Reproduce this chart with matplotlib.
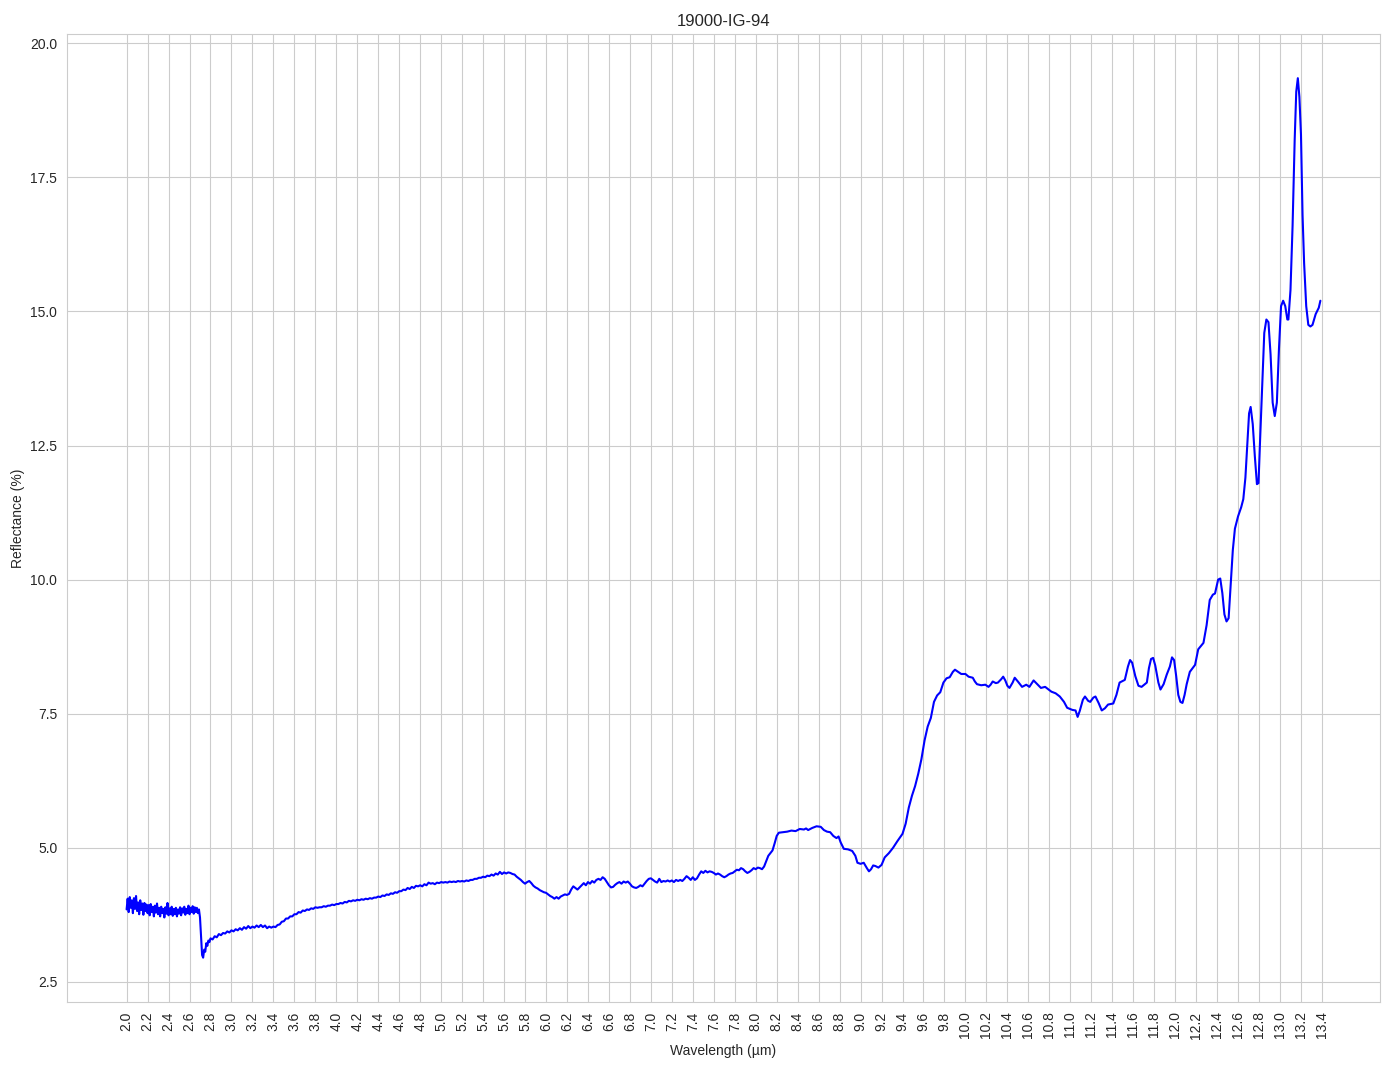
import numpy as np
import matplotlib
matplotlib.use("Agg")
import matplotlib.pyplot as plt
import seaborn as sns

title = "19000-IG-94"

# noisy start of the spectrum (read every 0.01 um)
wl_noisy = [2.00, 2.01, 2.02, 2.03, 2.04, 2.05, 2.06, 2.07, 2.08, 2.09,
            2.10, 2.11, 2.12, 2.13, 2.14, 2.15, 2.16, 2.17, 2.18, 2.19,
            2.20, 2.21, 2.22, 2.23, 2.24, 2.25, 2.26, 2.27, 2.28, 2.29,
            2.30, 2.31, 2.32, 2.33, 2.34, 2.35, 2.36, 2.37, 2.38, 2.39,
            2.40, 2.41, 2.42, 2.43, 2.44, 2.45, 2.46, 2.47, 2.48, 2.49,
            2.50, 2.51, 2.52, 2.53, 2.54, 2.55, 2.56, 2.57, 2.58, 2.59,
            2.60, 2.61, 2.62, 2.63, 2.64, 2.65, 2.66, 2.67, 2.68, 2.69, 2.70]
refl_noisy = [3.85, 4.05, 3.80, 4.08, 3.88, 4.02, 3.78, 4.06, 3.86, 4.10,
              3.82, 3.98, 3.76, 4.02, 3.84, 3.96, 3.75, 3.97, 3.82, 3.94,
              3.78, 3.93, 3.74, 3.95, 3.80, 3.90, 3.72, 3.92, 3.79, 3.96,
              3.76, 3.88, 3.72, 3.90, 3.78, 3.86, 3.70, 3.89, 3.77, 3.97,
              3.74, 3.87, 3.76, 3.90, 3.73, 3.86, 3.76, 3.88, 3.72, 3.85,
              3.77, 3.89, 3.74, 3.87, 3.79, 3.90, 3.75, 3.86, 3.78, 3.92,
              3.76, 3.88, 3.80, 3.91, 3.77, 3.89, 3.80, 3.88, 3.78, 3.85, 3.70]

# drop at 2.7 um and slow rise
wl_low = [2.71, 2.72, 2.73, 2.74, 2.75, 2.76, 2.77, 2.78, 2.79, 2.80,
          2.82, 2.84, 2.86, 2.88, 2.90, 2.92, 2.94, 2.96, 2.98, 3.00,
          3.02, 3.04, 3.06, 3.08, 3.10, 3.12, 3.14, 3.16, 3.18, 3.20,
          3.22, 3.24, 3.26, 3.28, 3.30, 3.32, 3.34, 3.36, 3.38, 3.40,
          3.42, 3.44, 3.46, 3.48, 3.50, 3.52, 3.54, 3.56, 3.58, 3.60,
          3.62, 3.64, 3.66, 3.68, 3.70, 3.72, 3.74, 3.76, 3.78, 3.80,
          3.82, 3.84, 3.86, 3.88, 3.90, 3.92, 3.94, 3.96, 3.98, 4.00,
          4.02, 4.04, 4.06, 4.08, 4.10, 4.12, 4.14, 4.16, 4.18, 4.20,
          4.22, 4.24, 4.26, 4.28, 4.30, 4.32, 4.34, 4.36, 4.38, 4.40,
          4.42, 4.44, 4.46, 4.48, 4.50, 4.52, 4.54, 4.56, 4.58, 4.60,
          4.62, 4.64, 4.66, 4.68, 4.70, 4.72, 4.74, 4.76, 4.78, 4.80,
          4.82, 4.84, 4.86, 4.88, 4.90, 4.92, 4.94, 4.96, 4.98, 5.00,
          5.02, 5.04, 5.06, 5.08, 5.10, 5.12, 5.14, 5.16, 5.18, 5.20,
          5.22, 5.24, 5.26, 5.28, 5.30, 5.32, 5.34, 5.36, 5.38, 5.40,
          5.42, 5.44, 5.46, 5.48, 5.50, 5.52, 5.54, 5.56, 5.58, 5.60]
refl_low = [3.35, 3.00, 2.95, 3.10, 3.06, 3.22, 3.17, 3.27, 3.24, 3.31,
            3.29, 3.35, 3.33, 3.39, 3.37, 3.41, 3.40, 3.44, 3.42, 3.46,
            3.44, 3.48, 3.46, 3.50, 3.47, 3.52, 3.49, 3.54, 3.50, 3.53,
            3.51, 3.55, 3.52, 3.56, 3.52, 3.55, 3.50, 3.53, 3.51, 3.53,
            3.52, 3.56, 3.57, 3.62, 3.63, 3.68, 3.68, 3.72, 3.72, 3.76,
            3.76, 3.80, 3.79, 3.83, 3.82, 3.85, 3.84, 3.87, 3.86, 3.89,
            3.88, 3.89, 3.89, 3.91, 3.90, 3.92, 3.92, 3.94, 3.93, 3.95,
            3.95, 3.97, 3.96, 3.99, 3.98, 4.01, 4.00, 4.02, 4.01, 4.03,
            4.02, 4.04, 4.03, 4.05, 4.04, 4.06, 4.05, 4.07, 4.07, 4.09,
            4.08, 4.11, 4.10, 4.13, 4.12, 4.15, 4.14, 4.17, 4.16, 4.19,
            4.19, 4.22, 4.21, 4.25, 4.23, 4.27, 4.25, 4.29, 4.28, 4.30,
            4.28, 4.32, 4.30, 4.35, 4.33, 4.34, 4.32, 4.35, 4.34, 4.36,
            4.35, 4.36, 4.35, 4.37, 4.36, 4.37, 4.36, 4.38, 4.37, 4.38,
            4.37, 4.39, 4.38, 4.40, 4.40, 4.42, 4.42, 4.44, 4.44, 4.46,
            4.45, 4.48, 4.47, 4.50, 4.48, 4.52, 4.50, 4.55, 4.51, 4.54]

# mid range 5.6 - 9.5 um
wl_mid = [5.62, 5.64, 5.66, 5.68, 5.70, 5.72, 5.74, 5.76, 5.78, 5.80,
          5.82, 5.84, 5.86, 5.88, 5.90, 5.92, 5.94, 5.96, 5.98, 6.00,
          6.02, 6.04, 6.06, 6.08, 6.10, 6.12, 6.14, 6.16, 6.18, 6.20,
          6.22, 6.24, 6.26, 6.28, 6.30, 6.32, 6.34, 6.36, 6.38, 6.40,
          6.42, 6.44, 6.46, 6.48, 6.50, 6.52, 6.54, 6.56, 6.58, 6.60,
          6.62, 6.64, 6.66, 6.68, 6.70, 6.72, 6.74, 6.76, 6.78, 6.80,
          6.82, 6.84, 6.86, 6.88, 6.90, 6.92, 6.94, 6.96, 6.98, 7.00,
          7.02, 7.04, 7.06, 7.08, 7.10, 7.12, 7.14, 7.16, 7.18, 7.20,
          7.22, 7.24, 7.26, 7.28, 7.30, 7.32, 7.34, 7.36, 7.38, 7.40,
          7.42, 7.44, 7.46, 7.48, 7.50, 7.52, 7.54, 7.56, 7.58, 7.60,
          7.62, 7.64, 7.66, 7.68, 7.70, 7.72, 7.74, 7.76, 7.78, 7.80,
          7.82, 7.84, 7.86, 7.88, 7.90, 7.92, 7.94, 7.96, 7.98, 8.00,
          8.02, 8.04, 8.06, 8.08, 8.10, 8.12, 8.14, 8.16, 8.18, 8.20,
          8.22, 8.26, 8.30, 8.34, 8.38, 8.42, 8.46, 8.48, 8.50, 8.54,
          8.58, 8.62, 8.65, 8.68, 8.71, 8.74, 8.77, 8.79, 8.81, 8.84,
          8.88, 8.92, 8.95, 8.97, 9.00, 9.03, 9.06, 9.08, 9.10, 9.12,
          9.14, 9.17, 9.20, 9.23, 9.27, 9.31, 9.35, 9.40, 9.43, 9.46]
refl_mid = [4.52, 4.54, 4.53, 4.51, 4.50, 4.46, 4.43, 4.40, 4.36, 4.33,
            4.36, 4.38, 4.34, 4.29, 4.26, 4.24, 4.21, 4.19, 4.17, 4.16,
            4.13, 4.10, 4.08, 4.05, 4.08, 4.05, 4.09, 4.11, 4.13, 4.12,
            4.14, 4.22, 4.28, 4.25, 4.22, 4.26, 4.30, 4.34, 4.30, 4.36,
            4.33, 4.38, 4.35, 4.40, 4.42, 4.40, 4.45, 4.42, 4.36, 4.30,
            4.26, 4.27, 4.31, 4.34, 4.36, 4.33, 4.37, 4.35, 4.37, 4.33,
            4.28, 4.26, 4.25, 4.27, 4.30, 4.28, 4.33, 4.38, 4.42, 4.43,
            4.40, 4.37, 4.35, 4.42, 4.36, 4.38, 4.37, 4.39, 4.37, 4.39,
            4.36, 4.40, 4.38, 4.40, 4.38, 4.42, 4.47, 4.44, 4.40, 4.45,
            4.40, 4.43, 4.50, 4.56, 4.53, 4.57, 4.54, 4.56, 4.55, 4.53,
            4.50, 4.52, 4.50, 4.47, 4.45, 4.47, 4.50, 4.52, 4.53, 4.56,
            4.59, 4.58, 4.62, 4.60, 4.56, 4.53, 4.55, 4.58, 4.62, 4.60,
            4.63, 4.62, 4.60, 4.65, 4.75, 4.85, 4.90, 4.95, 5.08, 5.22,
            5.28, 5.29, 5.30, 5.32, 5.31, 5.35, 5.34, 5.36, 5.33, 5.37,
            5.40, 5.39, 5.33, 5.30, 5.29, 5.22, 5.18, 5.21, 5.10, 4.98,
            4.97, 4.94, 4.85, 4.72, 4.70, 4.72, 4.62, 4.56, 4.60, 4.67,
            4.66, 4.63, 4.68, 4.82, 4.90, 5.00, 5.12, 5.26, 5.45, 5.75]

# smooth long-wave part 9.5 - 13.4 um
wl_high = [9.49, 9.52, 9.55, 9.58, 9.61, 9.64, 9.67, 9.70, 9.73, 9.76,
           9.79, 9.82, 9.85, 9.88, 9.90, 9.93, 9.96, 10.00, 10.03, 10.07,
           10.09, 10.11, 10.15, 10.19, 10.22, 10.24, 10.26, 10.29, 10.31, 10.34,
           10.36, 10.38, 10.40, 10.42, 10.45, 10.47, 10.50, 10.54, 10.58, 10.61,
           10.63, 10.65, 10.68, 10.72, 10.76, 10.82, 10.86, 10.90, 10.94, 10.97,
           11.02, 11.05, 11.07, 11.09, 11.12, 11.14, 11.17, 11.19, 11.22, 11.24,
           11.27, 11.30, 11.33, 11.36, 11.41, 11.44, 11.47, 11.52, 11.55, 11.57,
           11.59, 11.62, 11.65, 11.68, 11.73, 11.75, 11.77, 11.79, 11.81, 11.84,
           11.86, 11.89, 11.92, 11.95, 11.97, 11.99, 12.01, 12.03, 12.05, 12.07,
           12.09, 12.11, 12.14, 12.19, 12.22, 12.27, 12.30, 12.33, 12.36, 12.38,
           12.41, 12.43, 12.45, 12.47, 12.49, 12.51, 12.53, 12.55, 12.57, 12.60,
           12.63, 12.65, 12.67, 12.69, 12.705, 12.72, 12.74, 12.76, 12.78, 12.795,
           12.81, 12.83, 12.85, 12.87, 12.89, 12.91, 12.93, 12.95, 12.97, 12.99,
           13.01, 13.03, 13.05, 13.07, 13.08, 13.10, 13.12, 13.14, 13.155, 13.17,
           13.185, 13.20, 13.215, 13.23, 13.25, 13.27, 13.29, 13.31, 13.34, 13.37, 13.385]
refl_high = [5.97, 6.15, 6.38, 6.65, 7.00, 7.26, 7.42, 7.72, 7.84, 7.90,
             8.08, 8.16, 8.18, 8.28, 8.32, 8.28, 8.24, 8.24, 8.19, 8.17,
             8.10, 8.05, 8.03, 8.04, 8.00, 8.04, 8.10, 8.07, 8.08, 8.14,
             8.19, 8.12, 8.02, 7.98, 8.08, 8.17, 8.10, 8.00, 8.04, 8.00,
             8.06, 8.12, 8.06, 7.98, 8.00, 7.91, 7.88, 7.82, 7.72, 7.61,
             7.57, 7.56, 7.44, 7.55, 7.76, 7.82, 7.74, 7.72, 7.80, 7.82,
             7.70, 7.56, 7.60, 7.67, 7.69, 7.85, 8.08, 8.13, 8.38, 8.50,
             8.45, 8.20, 8.02, 8.00, 8.08, 8.35, 8.52, 8.54, 8.40, 8.08,
             7.95, 8.05, 8.23, 8.38, 8.55, 8.50, 8.20, 7.85, 7.72, 7.70,
             7.85, 8.05, 8.28, 8.41, 8.70, 8.82, 9.15, 9.62, 9.72, 9.74,
             10.00, 10.02, 9.75, 9.35, 9.22, 9.28, 9.90, 10.55, 10.95, 11.18,
             11.35, 11.50, 11.90, 12.60, 13.10, 13.22, 12.90, 12.30, 11.78, 11.80,
             12.60, 13.60, 14.60, 14.85, 14.80, 14.20, 13.30, 13.05, 13.30, 14.30,
             15.10, 15.20, 15.10, 14.85, 14.85, 15.40, 16.60, 18.20, 19.10, 19.35,
             19.00, 18.30, 16.80, 15.90, 15.10, 14.75, 14.72, 14.75, 14.95, 15.07, 15.20]

wavelength = np.array(wl_noisy + wl_low + wl_mid + wl_high)
reflectance = np.array(refl_noisy + refl_low + refl_mid + refl_high)

sns.set_style("whitegrid")
plt.rcParams['font.family'] = ['Liberation Sans', 'DejaVu Sans']

fig, ax = plt.subplots(figsize=(13.94, 10.69), dpi=100)
fig.subplots_adjust(left=0.048, right=0.990, top=0.968, bottom=0.063)

ax.plot(wavelength, reflectance, color="blue", linewidth=1.5)

ax.set_xticks(np.round(np.arange(2.0, 13.41, 0.2), 1))
ax.tick_params(axis="x", labelrotation=90)
ax.set_xlabel("Wavelength (µm)")
ax.set_ylabel("Reflectance (%)")
ax.set_title(title, fontsize=12)

fig.savefig("out.png", dpi=100)
